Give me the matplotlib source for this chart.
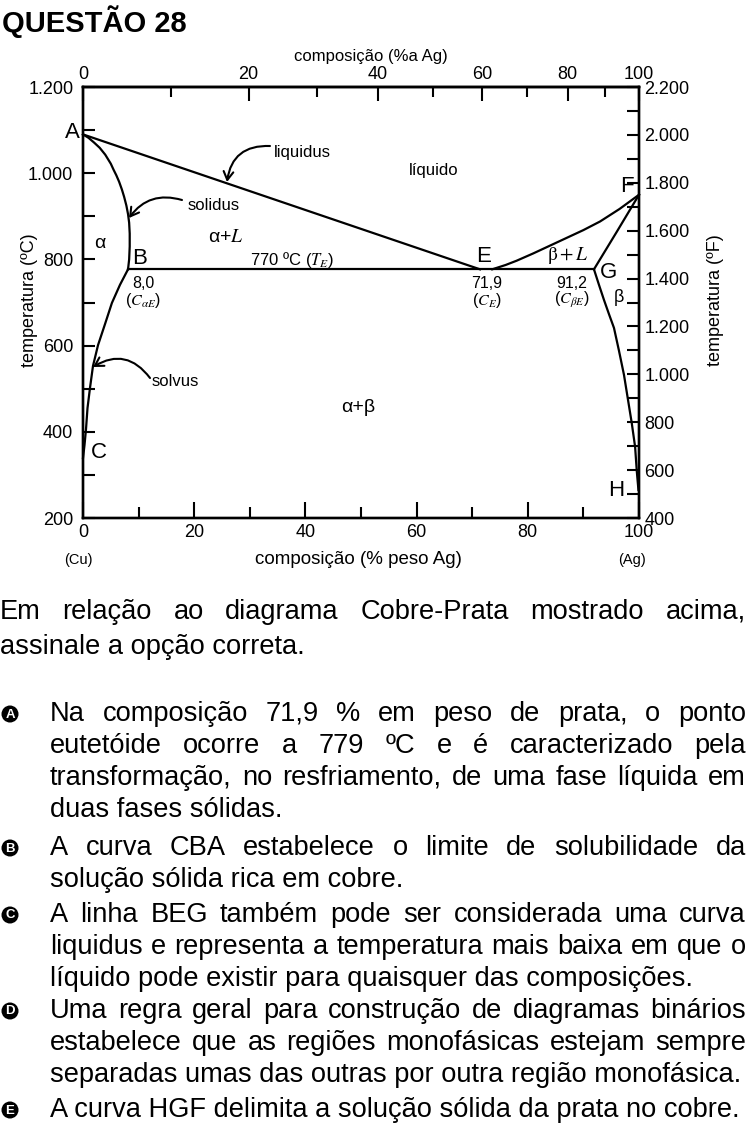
import matplotlib
matplotlib.use('Agg')
import matplotlib.pyplot as plt
import numpy as np
from matplotlib.patches import Circle
from matplotlib.ticker import FixedLocator, FuncFormatter

plt.rcParams['font.family'] = ['Liberation Sans', 'DejaVu Sans']
plt.rcParams['mathtext.fontset'] = 'stix'

# ---------------- data (wt% Ag, temperature in °C) ----------------
liq_cu_wt = [0, 71.4]
liq_cu_T = [1090, 777]
liq_ag_wt = [73.6, 76, 78, 81, 84, 87, 90, 93, 96.5, 100]
liq_ag_T = [777, 787, 797, 814, 832, 850, 868, 888, 917, 950]
sol_cu_wt = [0, 1, 2, 3, 4, 5, 5.5, 6.0, 6.5, 7.0, 7.4, 7.8, 8.1, 8.3, 8.4, 8.4, 8.3, 8.1]
sol_cu_T = [1090, 1082, 1071, 1059, 1043, 1022, 1008, 995, 980, 962, 945, 925, 905,
            885, 860, 830, 800, 777]
solv_cu_wt = [8.1, 6.65, 5.2, 3.96, 2.7, 1.8, 1.26, 0.81, 0.54, 0.27, 0]
solv_cu_T = [777, 741, 699, 650, 601, 553, 502, 455, 406, 369, 339]
sol_ag_wt = [91.9, 96, 100]
sol_ag_T = [777, 864, 950]
solv_ag_wt = [91.9, 92.8, 93.7, 94.6, 95.5, 96.4, 97.3, 98.0, 98.7, 99.3, 99.6, 99.9]
solv_ag_T = [777, 741, 706, 673, 641, 588, 532, 476, 420, 365, 309, 265]
eut_wt = [8.1, 91.9]
eut_T = [777, 777]

x_major = [0, 20, 40, 60, 80, 100]
x_minor = [10, 30, 50, 70, 90]
yC_major = [200, 400, 600, 800, 1000, 1200]
yC_minor = [300, 500, 700, 900, 1100]
yF_major = [400, 600, 800, 1000, 1200, 1400, 1600, 1800, 2000, 2200]
yF_minor = [500, 700, 900, 1100, 1300, 1500, 1700, 1900, 2100]
at_major = [0, 20, 40, 60, 80, 100]
at_minor = [10, 30, 50, 70, 90]
M_AG, M_CU = 107.87, 63.55

title = 'QUESTÃO 28'
intro_lines = ['Em relação ao diagrama Cobre-Prata mostrado acima,',
               'assinale a opção correta.']
options = [
    ('A', ['Na composição 71,9 % em peso de prata, o ponto',
           'eutetóide ocorre a 779 ºC e é caracterizado pela',
           'transformação, no resfriamento, de uma fase líquida em',
           'duas fases sólidas.']),
    ('B', ['A curva CBA estabelece o limite de solubilidade da',
           'solução sólida rica em cobre.']),
    ('C', ['A linha BEG também pode ser considerada uma curva',
           'liquidus e representa a temperatura mais baixa em que o',
           'líquido pode existir para quaisquer das composições.']),
    ('D', ['Uma regra geral para construção de diagramas binários',
           'estabelece que as regiões monofásicas estejam sempre',
           'separadas umas das outras por outra região monofásica.']),
    ('E', ['A curva HGF delimita a solução sólida da prata no cobre.']),
]

# ---------------- figure ----------------
W, H = 748, 1131
fig = plt.figure(figsize=(W / 100, H / 100), dpi=100)
L, R, T, B = 83, 639, 87, 518
ax = fig.add_axes([L / W, 1 - B / H, (R - L) / W, (B - T) / H])
ax.set_xlim(0, 100)
ax.set_ylim(200, 1200)

fmt = FuncFormatter(lambda v, p: f'{v:,.0f}'.replace(',', '.'))
lw = 1.6
for xs, ys in [(liq_cu_wt, liq_cu_T), (liq_ag_wt, liq_ag_T), (sol_cu_wt, sol_cu_T),
               (solv_cu_wt, solv_cu_T), (sol_ag_wt, sol_ag_T), (solv_ag_wt, solv_ag_T),
               (eut_wt, eut_T)]:
    ax.plot(xs, ys, color='black', lw=lw, solid_joinstyle='round', clip_on=False)

ax.xaxis.set_major_locator(FixedLocator(x_major))
ax.xaxis.set_minor_locator(FixedLocator(x_minor))
ax.yaxis.set_major_locator(FixedLocator(yC_major))
ax.yaxis.set_minor_locator(FixedLocator(yC_minor))
ax.yaxis.set_major_formatter(fmt)
ax.tick_params(axis='x', which='major', direction='in', length=11.5, width=1.5,
               labelsize=13, pad=4)
ax.tick_params(axis='x', which='minor', direction='in', length=8, width=1.5)
ax.tick_params(axis='y', which='both', direction='in', length=8.6, width=1.5,
               labelsize=13, pad=7)
for s in ax.spines.values():
    s.set_linewidth(1.7)

# top axis in atomic %
def wt2at(w):
    w = np.asarray(w, dtype=float)
    a = w / M_AG
    c = (100 - w) / M_CU
    return 100 * a / np.where(a + c == 0, 1, a + c)

def at2wt(a):
    a = np.asarray(a, dtype=float)
    g = a * M_AG
    c = (100 - a) * M_CU
    return 100 * g / np.where(g + c == 0, 1, g + c)

sec = ax.secondary_xaxis('top', functions=(wt2at, at2wt))
sec.xaxis.set_major_locator(FixedLocator(at_major))
sec.xaxis.set_minor_locator(FixedLocator(at_minor))
sec.tick_params(axis='x', which='major', direction='in', length=10, width=1.5,
                labelsize=13, pad=3)
sec.tick_params(axis='x', which='minor', direction='in', length=7, width=1.5)
sec.spines['top'].set_linewidth(1.7)

ax2 = ax.twinx()
ax2.set_ylim(400, 2200)
ax2.yaxis.set_major_locator(FixedLocator(yF_major))
ax2.yaxis.set_minor_locator(FixedLocator(yF_minor))
ax2.yaxis.set_major_formatter(fmt)
ax2.tick_params(axis='y', which='both', direction='in', length=8.6, width=1.5,
                labelsize=13, pad=4)
for s in ax2.spines.values():
    s.set_linewidth(1.7)

# ---------------- overlay in pixel coordinates ----------------
ov = fig.add_axes([0, 0, 1, 1], zorder=10)
ov.set_xlim(0, W)
ov.set_ylim(H, 0)
ov.axis('off')
ov.patch.set_alpha(0)

def t(x, y, s, size=12, **kw):
    kw.setdefault('ha', 'center')
    kw.setdefault('va', 'center')
    return ov.text(x, y, s, fontsize=size, **kw)

t(2, 22, title, 21, ha='left', fontweight='bold')
t(371, 57, 'composição (%a Ag)', 12)
t(358, 560, 'composição (% peso Ag)', 13.5)
t(78, 560, '(Cu)', 10.5)
t(632, 560, '(Ag)', 10.5)
t(30, 300, 'temperatura (ºC)', 13, rotation=90)
t(716, 300, 'temperatura (ºF)', 13, rotation=90)

for s, x, y in [('A', 72, 133), ('B', 140, 258), ('C', 99, 453), ('E', 484, 256),
                ('F', 627, 187), ('G', 609, 272), ('H', 616, 490)]:
    t(x, y, s, 16)

t(100, 243, 'α', 14)
t(226, 237, 'α+$L$', 14)
t(292, 260, '770 ºC ($T_{E}$)', 12)
t(434, 170, 'líquido', 12)
t(568, 255, r'$\mathrm{\beta}+L$', 14)
t(358, 408, 'α+β', 14)
t(619, 297, 'β', 13)
t(143, 283, '8,0', 11.5)
t(143, 300, '($C_{\\alpha E}$)', 11.5)
t(487, 283, '71,9', 11.5)
t(487, 300, '($C_{E}$)', 11.5)
t(572, 283, '91,2', 11.5)
t(572, 300, '($C_{\\beta E}$)', 11.5)

t(274, 153, 'liquidus', 12, ha='left')
t(188, 205, 'solidus', 12, ha='left')
t(152, 382, 'solvus', 12, ha='left')
arw = dict(arrowstyle='->,head_length=0.6,head_width=0.35', color='black', lw=1.5,
           shrinkA=0, shrinkB=0)
ov.annotate('', xy=(227, 182), xytext=(270, 146),
            arrowprops=dict(connectionstyle='arc3,rad=0.45', **arw))
ov.annotate('', xy=(129, 218), xytext=(182, 200),
            arrowprops=dict(connectionstyle='arc3,rad=0.35', **arw))
ov.annotate('', xy=(93, 367), xytext=(150, 378),
            arrowprops=dict(connectionstyle='arc3,rad=0.45', **arw))

# ---------------- body text (justified) ----------------
fig.canvas.draw()
rend = fig.canvas.get_renderer()
base = 19.6

def width_of(s, size):
    o = ov.text(0, 0, s, fontsize=size)
    w = o.get_window_extent(rend).width
    o.remove()
    return w

def put_line(s, x0, x1, y, justify, size):
    if not justify:
        t(x0, y, s, size, ha='left')
        return
    words = s.split(' ')
    objs = [t(0, y, w, size, ha='left') for w in words]
    widths = [o.get_window_extent(rend).width for o in objs]
    gap = (x1 - x0 - sum(widths)) / (len(words) - 1)
    x = x0
    for o, w in zip(objs, widths):
        o.set_x(x)
        x += w + gap

avail = []
for lines, x0 in [(intro_lines, 0)] + [(l, 50) for _, l in options]:
    for s in lines[:-1]:
        avail.append((746 - x0) / (width_of(s, base)))
size = base * min(1.0, min(avail))

ys_intro = [612, 647]
for i, s in enumerate(intro_lines):
    put_line(s, 0, 746, ys_intro[i], i < len(intro_lines) - 1, size)

ys_opts = [[714, 746, 778, 810], [848, 880], [915, 947, 979],
           [1011, 1043, 1075], [1110]]
for (letter, lines), ys in zip(options, ys_opts):
    ov.add_patch(Circle((10, ys[0]), 8.5, fc='black', ec='none'))
    t(10, ys[0] + 0.5, letter, 9.5, color='white', fontweight='bold')
    for i, s in enumerate(lines):
        put_line(s, 50, 746, ys[i], i < len(lines) - 1, size)

fig.savefig('out.png', dpi=100)
